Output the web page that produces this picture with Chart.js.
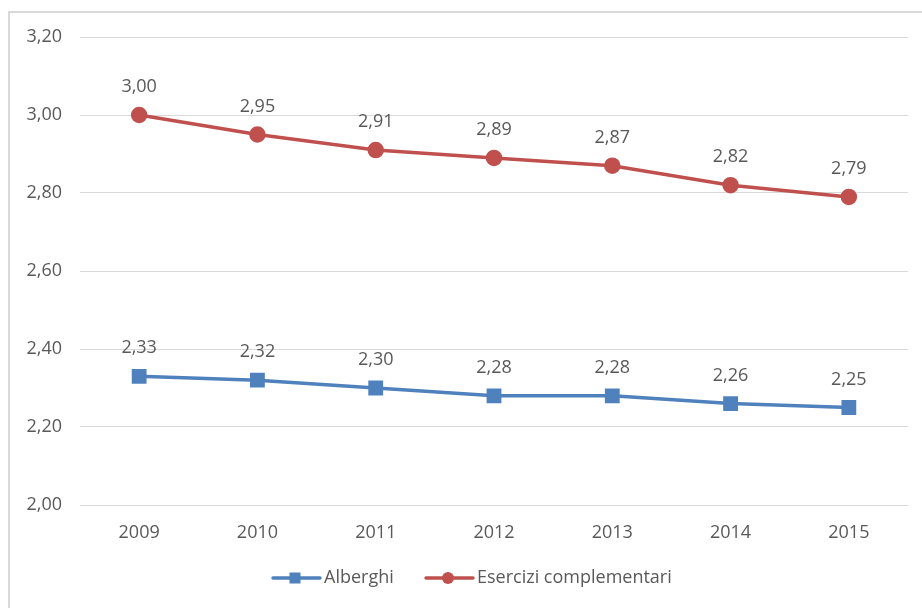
<!DOCTYPE html>
<html>
<head>
<meta charset="utf-8">
<script src="https://cdn.jsdelivr.net/npm/chart.js@4"></script>
<style>
  html, body { margin: 0; padding: 0; background: #fff; }
  #wrap { position: relative; width: 922px; height: 608px; overflow: hidden; }
  #frame { position: absolute; left: 8px; top: 11px; width: 930px; height: 620px;
           border-top: 2px solid #d9d9d9; border-left: 2px solid #d9d9d9; pointer-events: none; }
  canvas { position: absolute; left: 0; top: 0; }
</style>
</head>
<body>
<div id="wrap">
  <canvas id="lineChart" width="922" height="608"></canvas>
  <div id="frame"></div>
</div>
<script>
var years = ["2009", "2010", "2011", "2012", "2013", "2014", "2015"];
var alberghi = [2.33, 2.32, 2.30, 2.28, 2.28, 2.26, 2.25];
var complementari = [3.00, 2.95, 2.91, 2.89, 2.87, 2.82, 2.79];
var seriesNames = ["Alberghi", "Esercizi complementari"];
var seriesColors = ["#4f81bd", "#c0504d"];

var fontFamily = "'Open Sans', 'Liberation Sans', sans-serif";
var textColor = "#595959";

function fmt(v) {
    return v.toFixed(2).replace(".", ",");
}

// labels above each point
var pointLabels = {
    id: 'pointLabels',
    afterDatasetsDraw: function (chart) {
        var ctx = chart.ctx;
        ctx.save();
        ctx.font = "18px " + fontFamily;
        ctx.fillStyle = textColor;
        ctx.textAlign = "center";
        ctx.textBaseline = "middle";
        chart.data.datasets.forEach(function (ds, i) {
            chart.getDatasetMeta(i).data.forEach(function (pt, j) {
                ctx.fillText(fmt(ds.data[j]), pt.x, pt.y - 28);
            });
        });
        ctx.restore();
    }
};

// legend with line + marker, like the office chart
var lineLegend = {
    id: 'lineLegend',
    afterDraw: function (chart) {
        var ctx = chart.ctx;
        var y = 578;
        var items = [
            { x: 273, style: "rect" },
            { x: 426, style: "circle" }
        ];
        ctx.save();
        ctx.font = "18px " + fontFamily;
        ctx.textBaseline = "middle";
        items.forEach(function (it, i) {
            ctx.strokeStyle = seriesColors[i];
            ctx.fillStyle = seriesColors[i];
            ctx.lineWidth = 3.5;
            ctx.lineCap = "round";
            ctx.beginPath();
            ctx.moveTo(it.x, y);
            ctx.lineTo(it.x + 47, y);
            ctx.stroke();
            var cx = it.x + 22;
            if (it.style === "rect") {
                ctx.fillRect(cx - 5.5, y - 5.5, 11, 11);
            } else {
                ctx.beginPath();
                ctx.arc(cx, y, 6, 0, Math.PI * 2);
                ctx.fill();
            }
            ctx.fillStyle = textColor;
            ctx.textAlign = "left";
            ctx.fillText(seriesNames[i], it.x + 51, y);
        });
        ctx.restore();
    }
};

var ctx1 = document.getElementById("lineChart");
var myLineChart = new Chart(ctx1, {
    type: 'line',
    data: {
        labels: years,
        datasets: [{
            label: seriesNames[0],
            data: alberghi,
            borderColor: seriesColors[0],
            backgroundColor: seriesColors[0],
            borderWidth: 3.5,
            pointStyle: 'rect',
            pointRadius: 8,
            pointHoverRadius: 8,
            tension: 0
        }, {
            label: seriesNames[1],
            data: complementari,
            borderColor: seriesColors[1],
            backgroundColor: seriesColors[1],
            borderWidth: 3.5,
            pointStyle: 'circle',
            pointRadius: 6.5,
            pointHoverRadius: 6.5,
            tension: 0
        }]
    },
    options: {
        responsive: false,
        animation: false,
        events: [],
        layout: { padding: { left: 0, top: 37, right: 14, bottom: 0 } },
        plugins: {
            legend: { display: false },
            tooltip: { enabled: false },
            title: { display: false }
        },
        scales: {
            x: {
                offset: true,
                grid: { display: false, drawTicks: false },
                border: { display: false },
                ticks: { color: textColor, padding: 17, font: { family: fontFamily, size: 18 } },
                afterFit: function (scale) { scale.height = 103; }
            },
            y: {
                min: 2.0,
                max: 3.2,
                grid: { color: "#d9d9d9", lineWidth: 1, drawTicks: false },
                border: { display: false },
                ticks: {
                    stepSize: 0.2,
                    padding: 18,
                    color: textColor,
                    font: { family: fontFamily, size: 18 },
                    callback: function (v) { return fmt(v); }
                },
                afterFit: function (scale) { scale.width = 80; }
            }
        }
    },
    plugins: [pointLabels, lineLegend]
});
</script>
</body>
</html>
